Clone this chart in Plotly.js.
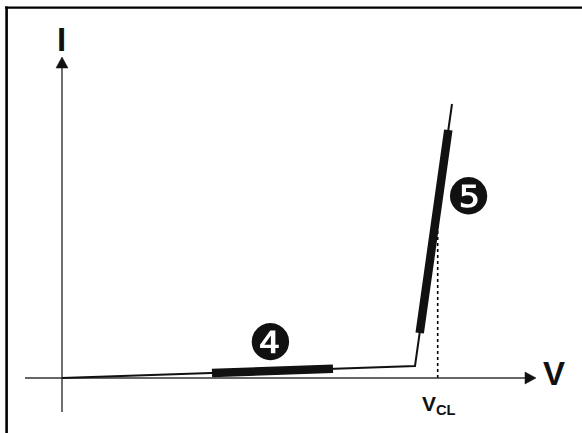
<!DOCTYPE html>
<html>
<head>
<meta charset="utf-8">
<script src="https://cdn.plot.ly/plotly-3.0.1.min.js"></script>
<style>html,body{margin:0;padding:0;background:#fff;}#chart{width:582px;height:433px;}</style>
</head>
<body>
<div id="chart"></div>
<script>
// I-V characteristic (arbitrary units, origin at the axes crossing)
var curveV = [0, 353, 390];
var curveI = [0, 12, 274];
// region 4 (low-current part) and region 5 (clamping part)
var region4V = [150, 271];
var region4I = [5.1, 9.2];
var region5V = [357.7, 386.3];
var region5I = [45, 248];
// clamping voltage marker
var vclV = [375.7, 375.7];
var vclI = [0, 165];
// axis extents
var axisV = [-37, 474];
var axisI = [-34, 321];
// labels
var labelI = "I";
var labelV = "V";
var labelVCL = "V<sub>CL</sub>";
var label4 = "\u2779";
var label5 = "\u277A";

// arrowhead geometry (length, half width) in axis units
var headLen = 11, headHalf = 6;

var traces = [
  {x: vclV, y: vclI, mode: 'lines', line: {color: '#000', width: 1.6, dash: 'dot'}, hoverinfo: 'skip'},
  // axes
  {x: [axisV[0], axisV[1] - headLen + 1], y: [0, 0], mode: 'lines', line: {color: '#333', width: 1.4}, hoverinfo: 'skip'},
  {x: [0, 0], y: [axisI[0], axisI[1] - headLen + 1], mode: 'lines', line: {color: '#333', width: 1.4}, hoverinfo: 'skip'},
  {x: [axisV[1], axisV[1] - headLen, axisV[1] - headLen, axisV[1]], y: [0, headHalf, -headHalf, 0],
   mode: 'lines', fill: 'toself', fillcolor: '#111', line: {color: '#111', width: 0.5}, hoverinfo: 'skip'},
  {x: [0, headHalf, -headHalf, 0], y: [axisI[1], axisI[1] - headLen, axisI[1] - headLen, axisI[1]],
   mode: 'lines', fill: 'toself', fillcolor: '#111', line: {color: '#111', width: 0.5}, hoverinfo: 'skip'},
  // curve
  {x: curveV, y: curveI, mode: 'lines', line: {color: '#111', width: 2}, hoverinfo: 'skip'},
  {x: region4V, y: region4I, mode: 'lines', line: {color: '#111', width: 8.5}, hoverinfo: 'skip'},
  {x: region5V, y: region5I, mode: 'lines', line: {color: '#111', width: 8.5}, hoverinfo: 'skip'}
];

var bold = {family: 'Liberation Sans, Arial, sans-serif', color: '#111', weight: 'bold'};
function f(size) { return Object.assign({size: size}, bold); }
var circ = {family: 'DejaVu Sans', size: 50, color: '#111'};

var annotations = [
  {x: -0.5, y: 339, text: '<b>' + labelI + '</b>', showarrow: false, font: f(33), xanchor: 'center', yanchor: 'middle'},
  {x: 491.5, y: 5, text: '<b>' + labelV + '</b>', showarrow: false, font: f(33), xanchor: 'center', yanchor: 'middle'},
  {x: 358, y: -27, text: '<b>' + labelVCL + '</b>', showarrow: false, font: f(21), xanchor: 'left', yanchor: 'middle'},
  {x: 208, y: 35, text: label4, showarrow: false, font: circ, xanchor: 'center', yanchor: 'middle'},
  {x: 406, y: 181, text: label5, showarrow: false, font: circ, xanchor: 'center', yanchor: 'middle'}
];

var W = 582, H = 433;
var shapes = [
  {type: 'line', xref: 'paper', yref: 'paper', x0: 5 / W, x1: 1, y0: 1 - 7.6 / H, y1: 1 - 7.6 / H, line: {color: '#000', width: 2.4}},
  {type: 'line', xref: 'paper', yref: 'paper', x0: 6.6 / W, x1: 6.6 / W, y0: 0, y1: 1 - 6.5 / H, line: {color: '#000', width: 2.6}}
];

var layout = {
  width: W, height: H,
  margin: {l: 0, r: 0, t: 0, b: 0, pad: 0},
  paper_bgcolor: '#fff', plot_bgcolor: '#fff',
  showlegend: false,
  xaxis: {range: [-62, 520], visible: false, fixedrange: true},
  yaxis: {range: [-55, 378], visible: false, fixedrange: true},
  annotations: annotations,
  shapes: shapes
};

Plotly.newPlot('chart', traces, layout, {staticPlot: true, displayModeBar: false});
</script>
</body>
</html>
